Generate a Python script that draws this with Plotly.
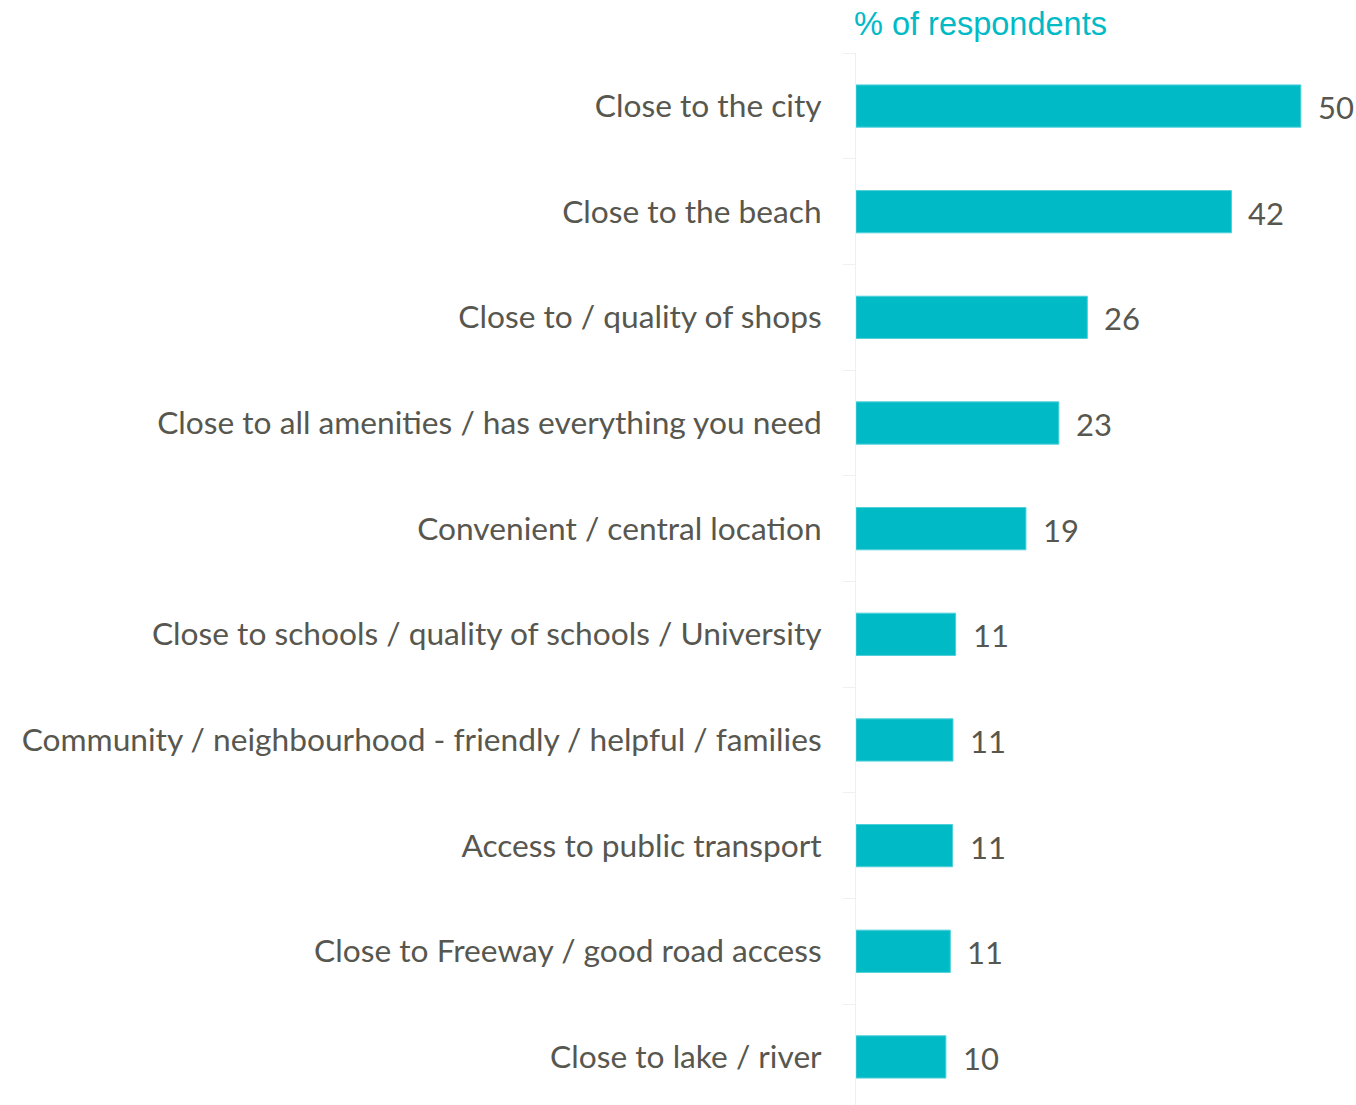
import plotly.graph_objects as go

categories = [
    "Close to the city",
    "Close to the beach",
    "Close to / quality of shops",
    "Close to all amenities / has everything you need",
    "Convenient / central location",
    "Close to schools / quality of schools / University",
    "Community / neighbourhood - friendly / helpful / families",
    "Access to public transport",
    "Close to Freeway / good road access",
    "Close to lake / river",
]
values = [50.0, 42.2, 26.0, 22.8, 19.1, 11.2, 10.9, 10.85, 10.6, 10.1]
value_labels = ["50", "42", "26", "23", "19", "11", "11", "11", "11", "10"]

teal = "#00BAC6"
text_gray = "#57574F"
font_family = "Lato, 'Open Sans', sans-serif"

fig = go.Figure()
fig.add_trace(go.Bar(
    x=values,
    y=categories,
    orientation="h",
    marker=dict(color=teal, line=dict(color="#4FD0D9", width=1)),
    width=0.4,
    hoverinfo="skip",
))

for cat, val, lab in zip(categories, values, value_labels):
    fig.add_annotation(
        x=val, y=cat, text=lab, showarrow=False,
        xanchor="left", yanchor="middle", xshift=15, yshift=-1,
        font=dict(family=font_family, size=31, color=text_gray),
    )

fig.update_layout(
    width=1356, height=1105,
    margin=dict(l=856, r=0, t=53, b=0),
    paper_bgcolor="white", plot_bgcolor="white",
    showlegend=False,
    title=dict(
        text="% of respondents",
        x=854 / 1356, xanchor="left", xref="container",
        y=1 - 24 / 1105, yanchor="middle", yref="container",
        font=dict(family="'Liberation Sans', Arial, sans-serif", size=32.5, color=teal),
    ),
    xaxis=dict(
        range=[0, 56.2], visible=False, fixedrange=True,
    ),
    yaxis=dict(
        type="category",
        range=[9.455, -0.502],
        showline=True, linecolor="#F0F0F0", linewidth=1,
        ticks="outside", tickson="boundaries", ticklen=12, tickcolor="#F0F0F0",
        ticklabelstandoff=27,
        tickfont=dict(family=font_family, size=31.7, color=text_gray),
        showgrid=False,
        fixedrange=True,
    ),
)

fig.write_html(
    "out.html",
    config={"displayModeBar": False, "staticPlot": True},
    post_script="document.body.style.margin='0';document.body.style.overflow='hidden';",
)
